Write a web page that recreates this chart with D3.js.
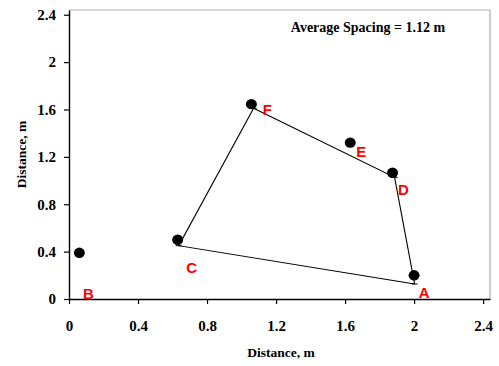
<!DOCTYPE html>
<html>
<head>
<meta charset="utf-8">
<script src="https://cdn.jsdelivr.net/npm/d3@7"></script>
<style>
  html, body { margin: 0; padding: 0; background: #fff; }
  svg { display: block; }
</style>
</head>
<body>
<div id="chart"></div>
<script>
// Measured tree positions (m)
const pointNames = ["A", "B", "C", "D", "E", "F"];
const pointX = [2.00, 0.06, 0.63, 1.875, 1.63, 1.057];
const pointY = [0.20, 0.39, 0.50, 1.066, 1.32, 1.645];

// Label offsets (baseline) from each point, in px
const labelDx = [10, 9, 14, 11, 11, 16];
const labelDy = [23, 46, 33, 22, 14, 11];

// Outline of the spacing polygon (A → D → F → C → A)
const hullX = [2.003, 1.887, 1.07, 0.636, 2.003];
const hullY = [0.127, 1.027, 1.61, 0.45, 0.127];

const tickValues = [0, 0.4, 0.8, 1.2, 1.6, 2, 2.4];
const annotation = "Average Spacing = 1.12 m";
const axisTitleX = "Distance, m";
const axisTitleY = "Distance, m";

const W = 499, H = 366;
const margin = { left: 69, right: 9, top: 10, bottom: 67 };
const serif = "'Liberation Serif', 'Times New Roman', serif";

const svg = d3.select("#chart").append("svg")
  .attr("width", W).attr("height", H);

const x = d3.scaleLinear().domain([0, 2.44]).range([margin.left, W - margin.right]);
const y = d3.scaleLinear().domain([0, 2.44]).range([H - margin.bottom, margin.top]);

// Plot frame (top and right edges in grey)
svg.append("path")
  .attr("d", `M${x(0)},${y(2.44)}H${x(2.44)}V${y(0)}`)
  .attr("fill", "none").attr("stroke", "#b0b0b0").attr("stroke-width", 1.2);

const fmt = d => (d === 0 ? "0" : String(d));

const xAxis = svg.append("g")
  .attr("transform", `translate(0,${y(0)})`)
  .call(d3.axisBottom(x).tickValues(tickValues).tickFormat(fmt).tickSize(5).tickSizeOuter(0));
const yAxis = svg.append("g")
  .attr("transform", `translate(${x(0)},0)`)
  .call(d3.axisLeft(y).tickValues(tickValues).tickFormat(fmt).tickSize(5).tickSizeOuter(0));

[xAxis, yAxis].forEach(g => {
  g.select(".domain").attr("stroke", "#000").attr("stroke-width", 1.4);
  g.selectAll(".tick line").attr("stroke", "#000").attr("stroke-width", 1.2);
  g.selectAll(".tick text")
    .attr("fill", "#000")
    .style("font-family", serif)
    .style("font-weight", "bold")
    .style("font-size", "15px");
});
xAxis.selectAll(".tick text").attr("y", 31.5).attr("dy", null);
yAxis.selectAll(".tick text").attr("x", -13);

// Polygon outline
const line = d3.line().x(d => x(d[0])).y(d => y(d[1]));
const hull = hullX.map((v, i) => [v, hullY[i]]);
svg.append("path")
  .attr("d", line(hull))
  .attr("fill", "none").attr("stroke", "#000").attr("stroke-width", 1.1);

// Vertex dash markers
svg.selectAll(".vtx").data(hull.slice(0, 4)).enter().append("line")
  .attr("x1", d => x(d[0]) - 3).attr("x2", d => x(d[0]) + 3)
  .attr("y1", d => y(d[1])).attr("y2", d => y(d[1]))
  .attr("stroke", "#000").attr("stroke-width", 1);

// Points
const pts = pointNames.map((n, i) => ({ n, x: pointX[i], y: pointY[i], dx: labelDx[i], dy: labelDy[i] }));
svg.selectAll(".pt").data(pts).enter().append("ellipse")
  .attr("cx", d => x(d.x)).attr("cy", d => y(d.y))
  .attr("rx", 5.5).attr("ry", 5.2)
  .attr("fill", "#000");

svg.selectAll(".lbl").data(pts).enter().append("text")
  .attr("x", d => x(d.x) + d.dx).attr("y", d => y(d.y) + d.dy)
  .attr("text-anchor", "middle")
  .attr("fill", "#ff0000")
  .style("font-family", "'Liberation Sans', Arial, sans-serif")
  .style("font-weight", "bold")
  .style("font-size", "15px")
  .text(d => d.n);

// Annotation
svg.append("text")
  .attr("x", 368).attr("y", 31.5)
  .attr("text-anchor", "middle")
  .style("font-family", serif)
  .style("font-weight", "bold")
  .style("font-size", "14px")
  .text(annotation);

// Axis titles
svg.append("text")
  .attr("x", 281).attr("y", 356.5)
  .attr("text-anchor", "middle")
  .style("font-family", serif)
  .style("font-weight", "bold")
  .style("font-size", "13.5px")
  .text(axisTitleX);

svg.append("text")
  .attr("transform", `translate(26,${(y(0) + y(2.44)) / 2}) rotate(-90)`)
  .attr("text-anchor", "middle")
  .style("font-family", serif)
  .style("font-weight", "bold")
  .style("font-size", "13.5px")
  .text(axisTitleY);
</script>
</body>
</html>
